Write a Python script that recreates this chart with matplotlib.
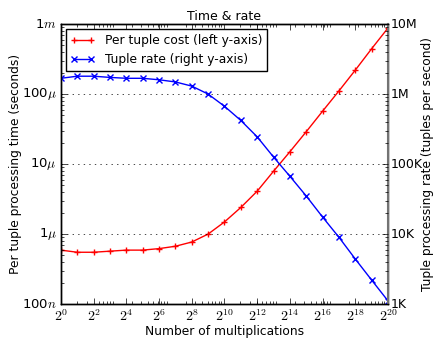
import numpy as np
import matplotlib
matplotlib.use("Agg")
import matplotlib.pyplot as plt
from matplotlib.ticker import FixedLocator, FuncFormatter, LogLocator, NullFormatter

# number of multiplications (powers of two)
exponents = list(range(0, 21))

# per tuple cost in seconds (left axis)
cost = [0.59e-6, 0.55e-6, 0.55e-6, 0.57e-6, 0.59e-6, 0.59e-6, 0.62e-6, 0.67e-6,
        0.77e-6, 1.0e-6, 1.49e-6, 2.4e-6, 4.1e-6, 7.9e-6, 15e-6, 29e-6,
        57e-6, 111e-6, 220e-6, 445e-6, 0.88e-3]

# tuple rate in tuples per second (right axis)
rate = [1.68e6, 1.8e6, 1.8e6, 1.73e6, 1.68e6, 1.68e6, 1.6e6, 1.49e6,
        1.3e6, 1.0e6, 0.67e6, 0.42e6, 0.245e6, 126e3, 67e3, 35e3,
        17.5e3, 9.0e3, 4.4e3, 2.2e3, 1.11e3]

left_ticks = [1e-7, 1e-6, 1e-5, 1e-4, 1e-3]
left_labels = ["100$n$", "1$\\mu$", "10$\\mu$", "100$\\mu$", "1$m$"]
right_ticks = [1e3, 1e4, 1e5, 1e6, 1e7]
right_labels = ["1K", "10K", "100K", "1M", "10M"]

plt.style.use('classic')
plt.rcParams['figure.facecolor'] = 'white'
plt.rcParams['savefig.facecolor'] = 'white'
plt.rcParams['mathtext.fontset'] = 'cm'
plt.rcParams['font.size'] = 9

x = [2 ** e for e in exponents]

fig = plt.figure(figsize=(4.35, 3.39), dpi=100)
ax = fig.add_axes([0.140, 0.103, 0.752, 0.826])
ax2 = ax.twinx()

l1, = ax.plot(x, cost, color='red', marker='+', markersize=5, linewidth=1,
              markeredgewidth=1, label='Per tuple cost (left y-axis)')
l2, = ax2.plot(x, rate, color='blue', marker='x', markersize=4, linewidth=1,
               markeredgewidth=1, label='Tuple rate (right y-axis)')

ax.set_xscale('log', base=2)
ax.set_xlim(2 ** 0, 2 ** 20)
ax.xaxis.set_major_locator(FixedLocator([2 ** e for e in range(0, 21, 2)]))
ax.xaxis.set_major_formatter(FuncFormatter(lambda v, p: "$2^{%d}$" % round(np.log2(v))))
ax.xaxis.set_minor_locator(LogLocator(base=10, subs=np.arange(2, 10)))
ax.xaxis.set_minor_formatter(NullFormatter())

ax.set_yscale('log')
ax.set_ylim(1e-7, 1e-3)
ax.yaxis.set_major_locator(FixedLocator(left_ticks))
ax.set_yticklabels(left_labels)
ax.yaxis.set_minor_locator(LogLocator(base=10, subs=np.arange(2, 10)))
ax.yaxis.set_minor_formatter(NullFormatter())
ax.yaxis.grid(True, which='major', linestyle=':', color='black')

ax2.set_yscale('log')
ax2.set_ylim(1e3, 1e7)
ax2.yaxis.set_major_locator(FixedLocator(right_ticks))
ax2.set_yticklabels(right_labels)
ax2.yaxis.set_minor_locator(LogLocator(base=10, subs=np.arange(2, 10)))
ax2.yaxis.set_minor_formatter(NullFormatter())
ax2.spines['right'].set_color('0.45')
ax2.spines['right'].set_linewidth(1.5)

ax.tick_params(axis='x', labelsize=10, pad=3)
ax.tick_params(axis='y', labelsize=9.5, pad=3)
ax2.tick_params(axis='y', labelsize=9, pad=2)

ax.set_xlabel('Number of multiplications', fontsize=8.8, labelpad=1)
ax.set_ylabel('Per tuple processing time (seconds)', fontsize=8.8, labelpad=0)
ax2.set_ylabel('Tuple processing rate (tuples per second)', fontsize=8.8, labelpad=-1)
ax.set_title('Time & rate', fontsize=9, pad=3)

ax2.legend([l1, l2], [l1.get_label(), l2.get_label()], loc='upper left',
           fontsize=8.8, numpoints=2, borderaxespad=0.4)

fig.savefig('out.png', dpi=100)
